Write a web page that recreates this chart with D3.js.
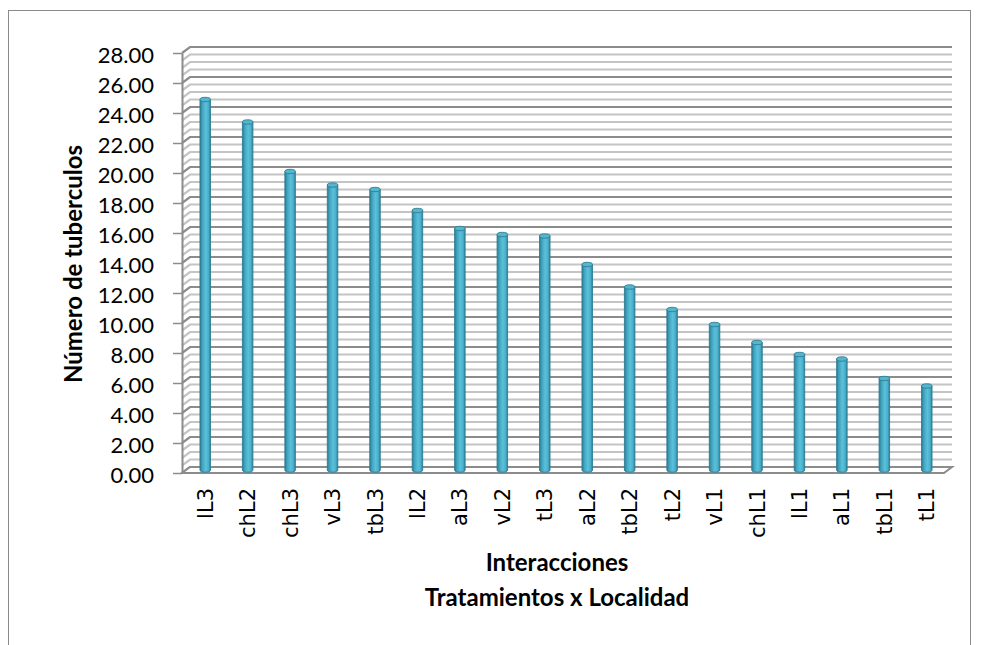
<!DOCTYPE html>
<html>
<head>
<meta charset="utf-8">
<script src="https://cdn.jsdelivr.net/npm/d3@7"></script>
<style>
  html, body { margin: 0; padding: 0; background: #ffffff; }
  svg { display: block; }
</style>
</head>
<body>
<svg id="chart" width="983" height="645"></svg>
<script>
// Interacciones (tratamiento x localidad) and mean number of tubers
const categories = ["lL3", "chL2", "chL3", "vL3", "tbL3", "lL2", "aL3", "vL2", "tL3",
                    "aL2", "tbL2", "tL2", "vL1", "chL1", "lL1", "aL1", "tbL1", "tL1"];
const values = [24.7, 23.2, 19.9, 19.0, 18.7, 17.3, 16.1, 15.7, 15.6,
                13.7, 12.2, 10.7, 9.7, 8.5, 7.7, 7.4, 6.1, 5.6];
const yTicks = d3.range(0, 28.01, 2);
const yMinorStep = 0.5;
const yMax = 28;
const xTitle = ["Interacciones", "Tratamientos x Localidad"];
const yTitle = "Número de tuberculos";

const svg = d3.select("#chart");

// Plot box geometry: front face and a small depth offset for the 3D walls
const front = { left: 182, right: 944, bottom: 473, top: 53 };
const depth = { dx: 8, dy: -6 };

const yFront = d3.scaleLinear().domain([0, yMax]).range([front.bottom, front.top]);
const yBack = d3.scaleLinear().domain([0, yMax]).range([front.bottom + depth.dy, front.top + depth.dy]);
const yMid = d3.scaleLinear().domain([0, yMax]).range([front.bottom + depth.dy / 2, front.top + depth.dy / 2]);

const x = d3.scaleBand().domain(categories).range([184, 948]);

// Outer chart frame
svg.append("rect")
  .attr("x", 8.5).attr("y", 10.5)
  .attr("width", 962).attr("height", 700)
  .attr("fill", "none").attr("stroke", "#8a8a8a").attr("stroke-width", 1);

// Walls: back wall + left side wall gridlines
const gridVals = d3.range(0, yMax + 0.001, yMinorStep);
const grid = svg.append("g").attr("class", "grid");
gridVals.forEach(v => {
  const major = Math.abs(v / 2 - Math.round(v / 2)) < 1e-6;
  const col = major ? "#8c8c8c" : "#c4c4c4";
  const yb = yBack(v), yf = yFront(v);
  grid.append("path")
    .attr("d", `M${front.left},${yf}L${front.left + depth.dx},${yb}L${front.right + depth.dx},${yb}`)
    .attr("fill", "none")
    .attr("stroke", col)
    .attr("stroke-width", 2.2);
});

// Floor
svg.append("path")
  .attr("d", `M${front.left},${yFront(0)}L${front.right},${yFront(0)}L${front.right + depth.dx},${yBack(0)}L${front.left + depth.dx},${yBack(0)}Z`)
  .attr("fill", "#ffffff")
  .attr("stroke", "#8c8c8c")
  .attr("stroke-width", 2);

// Front vertical axis with ticks and labels
const yAxis = d3.axisLeft(yFront)
  .tickValues(yTicks)
  .tickFormat(d3.format(".2f"))
  .tickSize(9)
  .tickSizeOuter(0)
  .tickPadding(19);
const gy = svg.append("g")
  .attr("transform", `translate(${front.left},0)`)
  .call(yAxis);
gy.select(".domain").attr("stroke", "#8c8c8c").attr("stroke-width", 2);
gy.selectAll(".tick line").attr("stroke", "#8c8c8c").attr("stroke-width", 1.5);
gy.selectAll(".tick text")
  .attr("font-family", "Lato, 'Open Sans', sans-serif")
  .attr("font-size", 22)
  .attr("fill", "#000")
  .attr("dy", "0.45em");

// Cylinders
const defs = svg.append("defs");
const grad = defs.append("linearGradient").attr("id", "cyl").attr("x1", "0").attr("x2", "1").attr("y1", "0").attr("y2", "0");
[["0%", "#2a7c94"], ["25%", "#44a7c2"], ["55%", "#5bc0da"], ["80%", "#4bb0cb"], ["100%", "#2c8299"]]
  .forEach(([o, c]) => grad.append("stop").attr("offset", o).attr("stop-color", c));

const bw = 10.5, ry = 2.2;
const bars = svg.append("g").attr("class", "bars");
categories.forEach((c, i) => {
  const cx = x(c) + x.bandwidth() / 2;
  const yt = yMid(values[i]);
  const yb = yMid(0);
  const g = bars.append("g");
  g.append("path")
    .attr("d", `M${cx - bw / 2},${yt}L${cx - bw / 2},${yb}A${bw / 2},${ry} 0 0 0 ${cx + bw / 2},${yb}L${cx + bw / 2},${yt}Z`)
    .attr("fill", "url(#cyl)")
    .attr("stroke", "#2f7d92")
    .attr("stroke-width", 0.9);
  g.append("ellipse")
    .attr("cx", cx).attr("cy", yt)
    .attr("rx", bw / 2).attr("ry", ry)
    .attr("fill", "#53b6cf")
    .attr("stroke", "#2f7d92")
    .attr("stroke-width", 0.9);
});

// Category axis (labels only, rotated)
const xAxis = d3.axisBottom(x).tickSize(0).tickPadding(0);
const gx = svg.append("g")
  .attr("transform", `translate(0,${front.bottom})`)
  .call(xAxis);
gx.select(".domain").remove();
gx.selectAll(".tick text")
  .attr("font-family", "'DejaVu Sans', Verdana, sans-serif")
  .attr("font-size", 21)
  .attr("fill", "#000")
  .attr("text-anchor", "end")
  .attr("transform", "rotate(-90)")
  .attr("x", -15)
  .attr("y", 0)
  .attr("dy", "0.36em");

// Axis titles
svg.append("text")
  .attr("transform", "translate(82,264) rotate(-90)")
  .attr("text-anchor", "middle")
  .attr("font-family", "Lato, 'Open Sans', sans-serif")
  .attr("font-weight", "bold")
  .attr("font-size", 24)
  .attr("fill", "#000")
  .text(yTitle);

xTitle.forEach((t, i) => {
  svg.append("text")
    .attr("x", 557)
    .attr("y", 571 + i * 35)
    .attr("text-anchor", "middle")
    .attr("font-family", "Lato, 'Open Sans', sans-serif")
    .attr("font-weight", "bold")
    .attr("font-size", 24)
    .attr("fill", "#000")
    .text(t);
});
</script>
</body>
</html>
